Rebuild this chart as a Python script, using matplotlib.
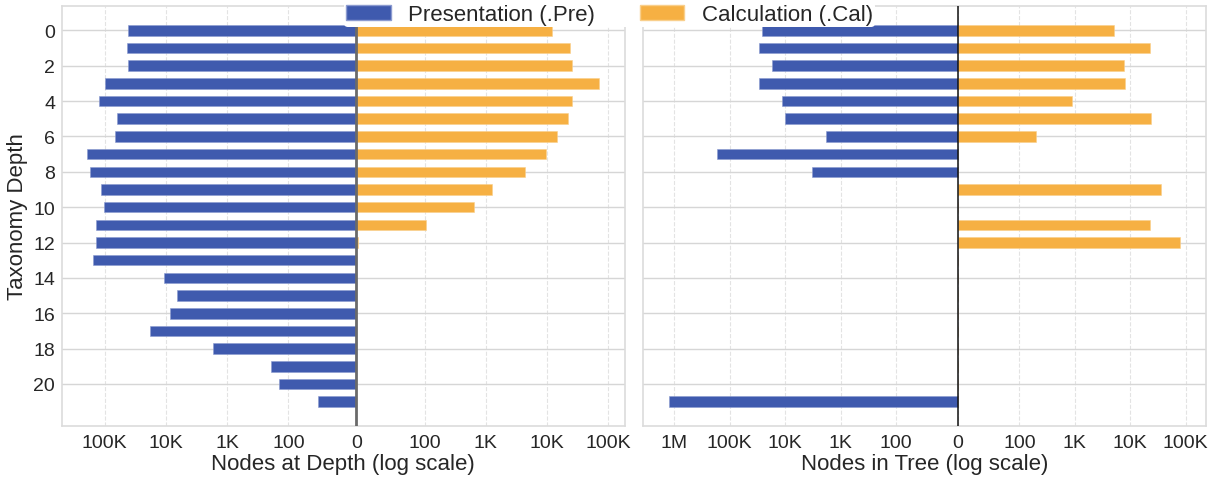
import matplotlib
matplotlib.use("Agg")
import matplotlib.pyplot as plt
from matplotlib.ticker import FixedLocator, FuncFormatter
from matplotlib.patches import Patch
import numpy as np

plt.rcParams['font.family'] = ['Liberation Sans', 'DejaVu Sans']

depths = list(range(22))

# Left panel: nodes at depth
pre_at_depth = [41900, 43600, 40800, 97000, 121600, 63400, 66700, 193000, 172600,
                112800, 103500, 136000, 137700, 152000, 10700, 6640, 8500, 18300,
                1690, 193, 141, 56]
cal_at_depth = [12100, 23600, 25700, 70300, 25700, 22100, 14300, 9800, 4290,
                1260, 644, 107, 3, 0, 0, 0, 0, 0, 0, 0, 0, 0]

# Right panel: nodes in tree
pre_in_tree = [25900, 30100, 17300, 30100, 11600, 10200, 1800, 172000, 3250,
               0, 0, 0, 0, 0, 0, 0, 0, 0, 0, 0, 0, 1245000]
cal_in_tree = [5160, 23000, 7820, 8160, 892, 23700, 200, 0, 0,
               35900, 0, 22800, 80000, 0, 0, 0, 0, 0, 0, 0, 0, 0]

tick_vals = [-1e6, -1e5, -1e4, -1e3, -100, 0, 100, 1e3, 1e4, 1e5]
y_ticks = list(range(0, 21, 2))

BLUE = '#3f5aae'
ORANGE = '#f6b043'


def fmt(v, pos=None):
    a = abs(v)
    if a == 0:
        return '0'
    if a >= 1e6:
        return f'{int(a / 1e6)}M'
    if a >= 1e3:
        return f'{int(a / 1e3)}K'
    return f'{int(a)}'


fig = plt.figure(figsize=(12.19, 4.81), dpi=100)
W, H = 1219, 481
ax1 = fig.add_axes([61.5 / W, (H - 427) / H, 563 / W, 420 / H])
ax2 = fig.add_axes([643.3 / W, (H - 427) / H, 562.7 / W, 420 / H], sharey=ax1)

panels = [
    (ax1, pre_at_depth, cal_at_depth, 'Nodes at Depth (log scale)', '#6a6a6a', 2.0),
    (ax2, pre_in_tree, cal_in_tree, 'Nodes in Tree (log scale)', '#111111', 1.1),
]

for ax, pre, cal, xlabel, zc, zw in panels:
    ax.set_xscale('symlog', linthresh=100, linscale=1)
    ax.barh(depths, [-v for v in pre], height=0.6, color=BLUE,
            edgecolor='#8c9bd0', linewidth=0.4, zorder=3)
    ax.barh(depths, cal, height=0.6, color=ORANGE,
            edgecolor='#f9cf8c', linewidth=0.4, zorder=3)
    ax.axvline(0, color=zc, lw=zw, zorder=4)
    ax.set_xlabel(xlabel, fontsize=16, labelpad=1, color='#262626')
    ax.xaxis.set_major_locator(FixedLocator(tick_vals))
    ax.xaxis.set_major_formatter(FuncFormatter(fmt))
    ax.xaxis.set_minor_locator(FixedLocator([]))
    ax.grid(axis='x', color='#e3e3e3', linestyle='--', linewidth=0.8, zorder=0)
    ax.grid(axis='y', color='#d6d6d6', linestyle='-', linewidth=1.0, zorder=0)
    ax.set_axisbelow(True)
    ax.tick_params(axis='both', length=0, labelsize=14, colors='#262626')
    ax.tick_params(axis='x', pad=6)
    ax.tick_params(axis='y', pad=4.5)
    for s in ax.spines.values():
        s.set_color('#dcdcdc')
        s.set_linewidth(1.2)

ax1.set_yticks(y_ticks)
ax1.set_ylim(22.38, -1.38)
ax1.set_ylabel('Taxonomy Depth', fontsize=16, color='#262626', labelpad=4)
ax2.tick_params(axis='y', labelleft=False)

handles = [Patch(facecolor=BLUE, edgecolor='#8c9bd0', label='Presentation (.Pre)'),
           Patch(facecolor=ORANGE, edgecolor='#f9cf8c', label='Calculation (.Cal)')]
leg = fig.legend(handles=handles, loc='upper center', bbox_to_anchor=(0.5, 1.017),
                 ncol=2, fontsize=16, frameon=True, framealpha=1.0, borderpad=0.1,
                 facecolor='white', edgecolor='none')
for t in leg.get_texts():
    t.set_color('#262626')

fig.savefig('out.png', dpi=100)
